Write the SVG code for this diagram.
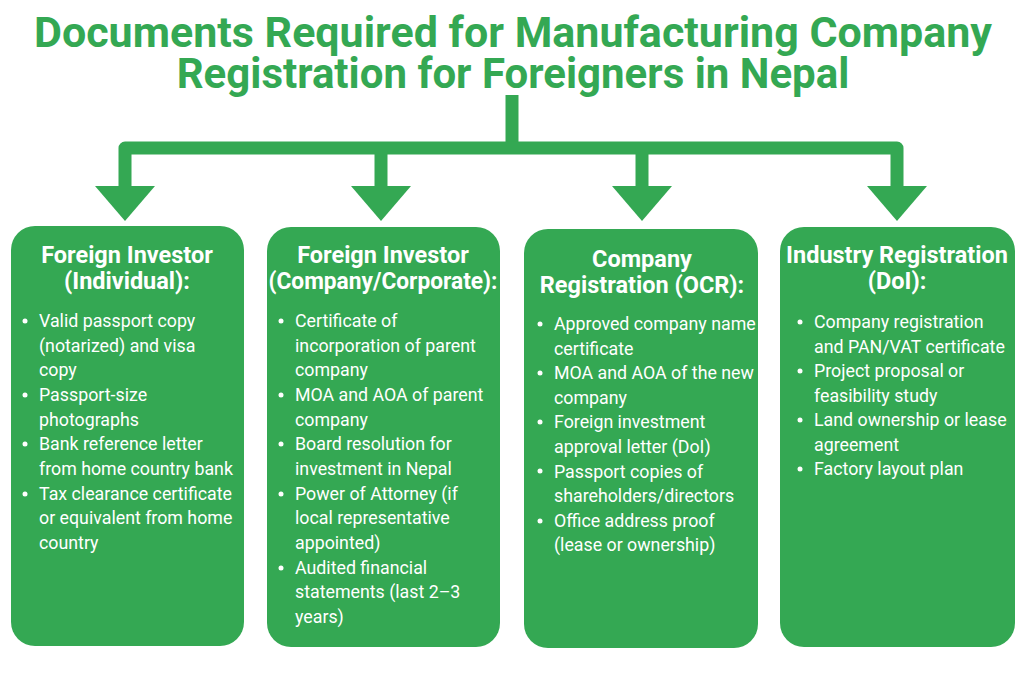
<svg xmlns="http://www.w3.org/2000/svg" width="1024" height="683" viewBox="0 0 1024 683">
<style>
.title{font-family:Roboto,"Liberation Sans",sans-serif;font-weight:700;font-size:42px;fill:#34a853;text-anchor:middle}
.box{fill:#34a853}
.hd{font-family:Roboto,"Liberation Sans",sans-serif;font-weight:700;font-size:23.5px;fill:#fff;text-anchor:middle}
.bt{font-family:Roboto,"Liberation Sans",sans-serif;font-size:17.8px;fill:#fff}
.dot{fill:#fff}
.ln{fill:none;stroke:#34a853;stroke-width:13;stroke-linejoin:round}
.ah{fill:#34a853}
</style>
<rect width="1024" height="683" fill="#fff"/>
<g id="title">
<text class="title" x="513" y="47" textLength="958" lengthAdjust="spacingAndGlyphs">Documents Required for Manufacturing Company</text>
<text class="title" x="513" y="88">Registration for Foreigners in Nepal</text>
</g>
<g id="connectors">
<path class="ln" d="M512,95 V148"/>
<path class="ln" d="M125,190 V148 H897 V190"/>
<path class="ln" d="M381,190 V148"/>
<path class="ln" d="M642,190 V148"/>
<polygon class="ah" points="95,186 155,186 125,221"/>
<polygon class="ah" points="351,186 411,186 381,221"/>
<polygon class="ah" points="612,186 672,186 642,221"/>
<polygon class="ah" points="867,186 927,186 897,221"/>
</g>
<g id="node1">
<rect class="box" x="11" y="226" width="233" height="420" rx="24"/>
<text class="hd" x="127" y="263">Foreign Investor</text>
<text class="hd" x="127" y="289">(Individual):</text>
<g class="dot"><circle cx="25" cy="321" r="2.5"/><circle cx="25" cy="395" r="2.5"/><circle cx="25" cy="444" r="2.5"/><circle cx="25" cy="494" r="2.5"/></g>
<text class="bt" x="39" y="327">Valid passport copy</text>
<text class="bt" x="39" y="352">(notarized) and visa</text>
<text class="bt" x="39" y="376">copy</text>
<text class="bt" x="39" y="401">Passport-size</text>
<text class="bt" x="39" y="426">photographs</text>
<text class="bt" x="39" y="450">Bank reference letter</text>
<text class="bt" x="39" y="475">from home country bank</text>
<text class="bt" x="39" y="500">Tax clearance certificate</text>
<text class="bt" x="39" y="524">or equivalent from home</text>
<text class="bt" x="39" y="549">country</text>
</g>
<g id="node2">
<rect class="box" x="267" y="227" width="233" height="420" rx="24"/>
<text class="hd" x="383" y="263">Foreign Investor</text>
<text class="hd" x="383" y="289" textLength="229" lengthAdjust="spacingAndGlyphs">(Company/Corporate):</text>
<g class="dot"><circle cx="281" cy="321" r="2.5"/><circle cx="281" cy="395" r="2.5"/><circle cx="281" cy="444" r="2.5"/><circle cx="281" cy="494" r="2.5"/><circle cx="281" cy="568" r="2.5"/></g>
<text class="bt" x="295" y="327">Certificate of</text>
<text class="bt" x="295" y="352">incorporation of parent</text>
<text class="bt" x="295" y="376">company</text>
<text class="bt" x="295" y="401">MOA and AOA of parent</text>
<text class="bt" x="295" y="426">company</text>
<text class="bt" x="295" y="450">Board resolution for</text>
<text class="bt" x="295" y="475">investment in Nepal</text>
<text class="bt" x="295" y="500">Power of Attorney (if</text>
<text class="bt" x="295" y="524">local representative</text>
<text class="bt" x="295" y="549">appointed)</text>
<text class="bt" x="295" y="574">Audited financial</text>
<text class="bt" x="295" y="598">statements (last 2–3</text>
<text class="bt" x="295" y="623">years)</text>
</g>
<g id="node3">
<rect class="box" x="524" y="229" width="234" height="419" rx="24"/>
<text class="hd" x="642" y="267">Company</text>
<text class="hd" x="642" y="293">Registration (OCR):</text>
<g class="dot"><circle cx="540" cy="324" r="2.5"/><circle cx="540" cy="373" r="2.5"/><circle cx="540" cy="422" r="2.5"/><circle cx="540" cy="471" r="2.5"/><circle cx="540" cy="521" r="2.5"/></g>
<text class="bt" x="554" y="330">Approved company name</text>
<text class="bt" x="554" y="355">certificate</text>
<text class="bt" x="554" y="379">MOA and AOA of the new</text>
<text class="bt" x="554" y="404">company</text>
<text class="bt" x="554" y="428">Foreign investment</text>
<text class="bt" x="554" y="453">approval letter (DoI)</text>
<text class="bt" x="554" y="478">Passport copies of</text>
<text class="bt" x="554" y="502">shareholders/directors</text>
<text class="bt" x="554" y="527">Office address proof</text>
<text class="bt" x="554" y="551">(lease or ownership)</text>
</g>
<g id="node4">
<rect class="box" x="780" y="227" width="235" height="420" rx="24"/>
<text class="hd" x="897" y="263">Industry Registration</text>
<text class="hd" x="897" y="289">(DoI):</text>
<g class="dot"><circle cx="800" cy="322" r="2.5"/><circle cx="800" cy="371" r="2.5"/><circle cx="800" cy="420" r="2.5"/><circle cx="800" cy="469" r="2.5"/></g>
<text class="bt" x="814" y="328">Company registration</text>
<text class="bt" x="814" y="353">and PAN/VAT certificate</text>
<text class="bt" x="814" y="377">Project proposal or</text>
<text class="bt" x="814" y="402">feasibility study</text>
<text class="bt" x="814" y="426">Land ownership or lease</text>
<text class="bt" x="814" y="451">agreement</text>
<text class="bt" x="814" y="475">Factory layout plan</text>
</g>
</svg>
